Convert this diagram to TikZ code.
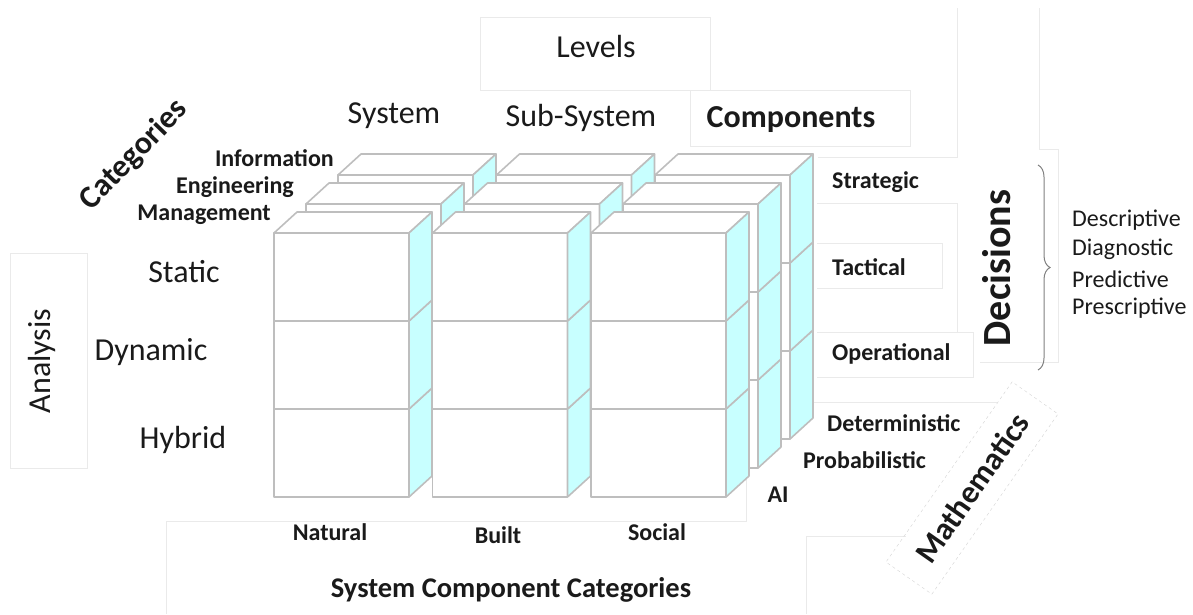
\documentclass[tikz,border=0pt]{standalone}
\usepackage{fontspec}
\setmainfont{Carlito}
\usetikzlibrary{decorations.pathreplacing}
\definecolor{cubeedge}{HTML}{BEBEBE}
\definecolor{cubeside}{HTML}{C8FFFF}
\definecolor{faintline}{HTML}{EAEAEA}
\definecolor{inkblack}{HTML}{1A1A1A}

\begin{document}
\begin{tikzpicture}[x=1pt, y=-1pt,
		face/.style={draw=cubeedge, line width=1.6pt, fill=white, line join=round},
		side/.style={face, fill=cubeside},
		faint/.style={draw=faintline, line width=0.8pt},
		txt/.style={inner sep=0pt, text=inkblack},
		bigtxt/.style={txt, font=\fontsize{32}{38}\selectfont},
		bigbf/.style={txt, font=\fontsize{32}{38}\selectfont\bfseries},
		smallbf/.style={txt, font=\fontsize{24}{28}\selectfont\bfseries},
		smalltxt/.style={txt, font=\fontsize{24}{28}\selectfont}]
	\useasboundingbox (0,0) rectangle (1193,614);
	\draw[faint] (480,17) rectangle (710,90);
	\draw[faint] (690,90) rectangle (910,146);
	\draw[faint] (957,8) -- (957,157) -- (818,157);
	\draw[faint] (1039,8) -- (1039,149) -- (1058,149) -- (1058,362) -- (980,362);
	\draw[faint] (817,203) -- (957,203) -- (957,332);
	\draw[faint] (817,243) -- (942,243) -- (942,288) -- (817,288);
	\draw[faint] (817,332) -- (973,332) -- (973,377) -- (817,377);
	\draw[faint] (813,402) -- (997,402);
	\draw[faint] (10,253) rectangle (87,468);
	\draw[faint] (166,614) -- (166,521) -- (746,521) -- (746,405);
	\draw[faint] (806,614) -- (806,536) -- (906,536);
	\foreach \L in {2,1,0}
		\foreach \r in {2,1,0}
			\foreach \c in {0,1,2}{
				\pgfmathsetmacro{\xa}{274+158.5*\c+32*\L}
				\pgfmathsetmacro{\ya}{233+88*\r-29*\L}
				\draw[face] (\xa,\ya) rectangle ++(135,88);
				\draw[face] (\xa,\ya) -- ++(23,-21) -- ++(135,0) -- ++(-23,21) -- cycle;
				\draw[side] (\xa+135,\ya) -- ++(23,-21) -- ++(0,88) -- ++(-23,21) -- cycle;
			}
	\node[bigtxt] (levels) at (596,47) {Levels};
	\node[bigtxt] (system) at (394,116) {System};
	\node[bigtxt] (subsystem) at (581,118) {Sub-System};
	\node[bigbf] (components) at (791,120) {Components};
	\node[bigbf, rotate=46] (categories) at (134,155) {Categories};
	\node[smallbf, anchor=east] (information) at (334,158) {Information};
	\node[smallbf, anchor=east] (engineering) at (294,187) {Engineering};
	\node[smallbf, anchor=east] (management) at (271,215) {Management};
	\node[bigtxt, rotate=90] (analysis) at (42,361) {Analysis};
	\node[bigtxt] (static) at (184,272) {Static};
	\node[bigtxt] (dynamic) at (151,352) {Dynamic};
	\node[bigtxt] (hybrid) at (183,440) {Hybrid};
	\node[smallbf, anchor=west] (strategic) at (832,182) {Strategic};
	\node[smallbf, anchor=west] (tactical) at (832,267) {Tactical};
	\node[smallbf, anchor=west] (operational) at (832,354) {Operational};
	\node[txt, font=\fontsize{40}{48}\selectfont\bfseries, rotate=90] (decisions) at (997,268) {Decisions};
	\coordinate (bracetop) at (1038,165);
	\coordinate (bracebot) at (1038,370);
	\draw[decorate, decoration={brace, amplitude=12pt}, draw=gray, line width=1pt] (bracetop) -- (bracebot);
	\node[smalltxt, anchor=west] (descriptive) at (1072,220) {Descriptive};
	\node[smalltxt, anchor=west] (diagnostic) at (1072,249) {Diagnostic};
	\node[smalltxt, anchor=west] (predictive) at (1072,279) {Predictive};
	\node[smalltxt, anchor=west] (prescriptive) at (1072,308) {Prescriptive};
	\node[smallbf, anchor=west] (deterministic) at (827,423) {Deterministic};
	\node[smallbf, anchor=west] (probabilistic) at (803,460) {Probabilistic};
	\node[smallbf] (ai) at (778,495) {AI};
	\node[bigbf, rotate=55, draw=gray!35, dashed, minimum width=220pt, minimum height=56pt] (mathematics) at (972,488) {Mathematics};
	\node[smallbf] (natural) at (330,532) {Natural};
	\node[smallbf] (built) at (498,535) {Built};
	\node[smallbf] (social) at (657,532) {Social};
	\node[txt, font=\fontsize{28.5}{34}\selectfont\bfseries] (scc) at (511,590) {System Component Categories};
\end{tikzpicture}
\end{document}
